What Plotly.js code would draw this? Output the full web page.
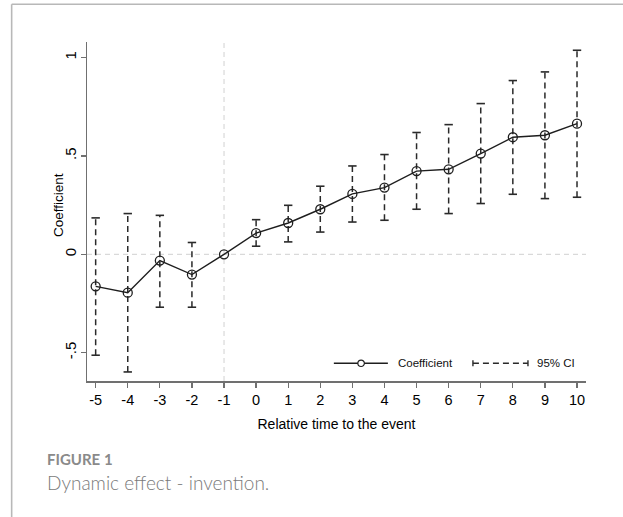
<!DOCTYPE html>
<html>
<head>
<meta charset="utf-8">
<script src="https://cdn.plot.ly/plotly-3.0.1.min.js"></script>
<style>
html,body{margin:0;padding:0;background:#fff;}
#chart{width:623px;height:517px;}
</style>
</head>
<body>
<div id="chart"></div>
<script>
// ---- data ----
const relTime = [-5,-4,-3,-2,-1,0,1,2,3,4,5,6,7,8,9,10];
const relTimeLabels = ['-5','-4','-3','-2','-1','0','1','2','3','4','5','6','7','8','9','10'];
const coef    = [-0.163,-0.195,-0.032,-0.103,0,0.108,0.159,0.229,0.307,0.339,0.423,0.432,0.512,0.595,0.605,0.664];
const ciLow   = [-0.513,-0.598,-0.269,-0.269,null,0.041,0.063,0.113,0.164,0.173,0.229,0.207,0.258,0.305,0.283,0.290];
const ciHigh  = [0.185,0.207,0.198,0.060,null,0.176,0.249,0.346,0.449,0.507,0.619,0.659,0.766,0.883,0.927,1.037];
const yTickVals = [-0.5,0,0.5,1];
const yTickText = ['-.5','0','.5','1'];
const eventTime = -1;
const refLevel = 0;

// ---- geometry ----
const W = 623, H = 517;
const M = {l:87.3, r:37, t:41.7, b:136.3};
const PW = W - M.l - M.r, PH = H - M.t - M.b;
const px = x => (x - M.l) / PW;
const py = y => (H - M.b - y) / PH;

// CI segments built from the arrays
const ciX = [], ciY = [];
relTime.forEach((t,i) => {
  if (ciLow[i] === null || ciHigh[i] === null) return;
  ciX.push(t, t, null);
  ciY.push(ciLow[i], ciHigh[i], null);
});

const ink = '#1e1e1e';
const ciInk = '#2a2a2a';
const axisCol = '#707070';
const refCol = '#d9d9d9';
const ciDash = '6px,4px';
const sans = 'Liberation Sans, Arial, sans-serif';

const traces = [
  {
    x: ciX, y: ciY, type: 'scatter', mode: 'lines+markers',
    line: {color: ciInk, width: 1.5, dash: ciDash},
    marker: {symbol: 'line-ew', size: 6, line: {color: ciInk, width: 1.6}},
    hoverinfo: 'skip', showlegend: false
  },
  {
    x: relTime, y: coef, type: 'scatter', mode: 'lines+markers',
    line: {color: ink, width: 1.4},
    marker: {symbol: 'circle-open', size: 9, color: ink, line: {width: 1.3, color: ink}},
    showlegend: false
  }
];

const lgY = py(363);
const shapes = [
  // reference lines
  {type:'line', xref:'paper', yref:'y', x0:0, x1:1, y0:refLevel, y1:refLevel,
   line:{color:refCol, width:1.2, dash:'5px,4px'}, layer:'below'},
  {type:'line', xref:'x', yref:'paper', x0:eventTime, x1:eventTime, y0:0, y1:1,
   line:{color:refCol, width:1.2, dash:'5px,4px'}, layer:'below'},
  // card border (top and left)
  {type:'line', xref:'paper', yref:'paper', x0:px(12), x1:px(640), y0:py(4), y1:py(4),
   line:{color:'#b8b8b8', width:1.6}},
  {type:'line', xref:'paper', yref:'paper', x0:px(12), x1:px(12), y0:py(4), y1:py(540),
   line:{color:'#b8b8b8', width:1.6}},
  // legend: coefficient
  {type:'line', xref:'paper', yref:'paper', x0:px(334), x1:px(388), y0:lgY, y1:lgY,
   line:{color:ink, width:1.4}},
  {type:'circle', xref:'paper', yref:'paper', x0:px(358), x1:px(364.5), y0:py(366.2), y1:py(359.8),
   fillcolor:'#fff', line:{color:ink, width:1.2}},
  // legend: CI
  {type:'line', xref:'paper', yref:'paper', x0:px(473), x1:px(528), y0:lgY, y1:lgY,
   line:{color:ciInk, width:1.4, dash:ciDash}},
  {type:'line', xref:'paper', yref:'paper', x0:px(473), x1:px(473), y0:py(360), y1:py(366),
   line:{color:ciInk, width:1.4}},
  {type:'line', xref:'paper', yref:'paper', x0:px(528), x1:px(528), y0:py(360), y1:py(366),
   line:{color:ciInk, width:1.4}}
];

const annotations = [
  {text:'Coefficient', xref:'paper', yref:'paper', x:px(59), y:py(205), textangle:-90,
   xanchor:'center', yanchor:'middle', showarrow:false, font:{family:sans, size:13.5, color:'#000'}},
  {text:'Coefficient', xref:'paper', yref:'paper', x:px(396), y:lgY, xanchor:'left', yanchor:'middle',
   showarrow:false, font:{family:sans, size:11.5, color:'#111'}},
  {text:'95% CI', xref:'paper', yref:'paper', x:px(535), y:lgY, xanchor:'left', yanchor:'middle',
   showarrow:false, font:{family:sans, size:11.5, color:'#111'}},
  {text:'<b>FIGURE 1</b>', xref:'paper', yref:'paper', x:px(45), y:py(459), xanchor:'left', yanchor:'middle',
   showarrow:false, font:{family:'Lato, sans-serif', size:15, color:'#8a8a8a'}},
  {text:'Dynamic effect - invention.', xref:'paper', yref:'paper', x:px(45), y:py(482), xanchor:'left', yanchor:'middle',
   showarrow:false, font:{family:'Lato, sans-serif', size:19, weight:300, color:'#7a7a7a'}}
];

const layout = {
  width: W, height: H,
  margin: {l:M.l, r:M.r, t:M.t, b:M.b, pad:0},
  paper_bgcolor:'#fff', plot_bgcolor:'#fff',
  font:{family:sans, size:14, color:'#000'},
  showlegend:false,
  xaxis:{
    range:[-5.27, 10.28], tickvals: relTime, ticktext: relTimeLabels,
    ticks:'outside', ticklen:5, tickwidth:1.3, tickcolor:axisCol,
    showline:true, linecolor:axisCol, linewidth:1.5, showgrid:false, zeroline:false,
    tickfont:{size:14.5}, fixedrange:true,
    title:{text:'Relative time to the event', font:{size:14}, standoff:12}
  },
  yaxis:{
    range:[-0.644, 1.079], tickvals: yTickVals, ticktext: yTickText, tickangle:-90,
    ticks:'outside', ticklen:5, tickwidth:1.3, tickcolor:axisCol,
    showline:true, linecolor:axisCol, linewidth:1.5, showgrid:false, zeroline:false,
    tickfont:{size:15}, ticklabelstandoff:-1, fixedrange:true
  },
  shapes: shapes,
  annotations: annotations
};

Plotly.newPlot('chart', traces, layout, {displayModeBar:false, staticPlot:true});
</script>
</body>
</html>
